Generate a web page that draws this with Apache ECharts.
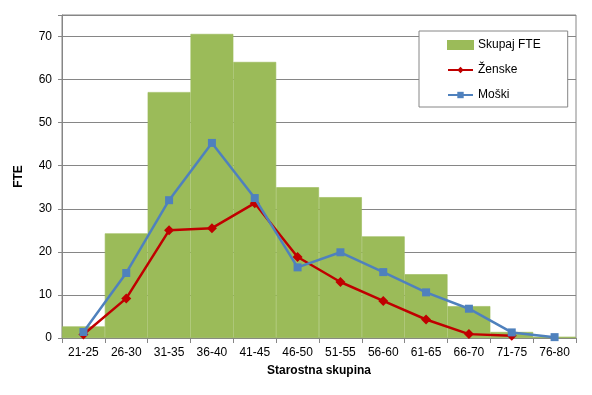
<!DOCTYPE html>
<html>
<head>
<meta charset="utf-8">
<script src="https://cdn.jsdelivr.net/npm/echarts@6/dist/echarts.min.js"></script>
<style>html,body{margin:0;padding:0;background:#fff}#c{width:592px;height:395px}</style>
</head>
<body>
<div id="c"></div>
<script>
const categories = ['21-25','26-30','31-35','36-40','41-45','46-50','51-55','56-60','61-65','66-70','71-75','76-80'];
const skupaj = [2.7, 24.3, 57.1, 70.6, 64.1, 35.0, 32.7, 23.6, 14.8, 7.4, 1.4, 0.3];
const zenske = [0.8, 9.2, 25.0, 25.5, 31.3, 18.8, 13.0, 8.6, 4.3, 0.9, 0.5, null];
const moski = [1.4, 15.1, 32.0, 45.3, 32.5, 16.4, 19.9, 15.3, 10.6, 6.8, 1.3, 0.2];
const yTicks = [0, 10, 20, 30, 40, 50, 60, 70];

const font = 'Liberation Sans, Arial, sans-serif';
const chart = echarts.init(document.getElementById('c'), null, {renderer: 'canvas'});
chart.setOption({
  animation: false,
  textStyle: {fontFamily: font},
  grid: {left: 62, right: 16, top: 15, bottom: 57, show: true, borderColor: '#868686', borderWidth: 1},
  legend: {
    orient: 'vertical', left: 419, top: 31,
    padding: [8, 27, 6, 28], itemGap: 13, itemWidth: 25, itemHeight: 8,
    borderColor: '#868686', borderWidth: 1, backgroundColor: '#fff',
    textStyle: {fontFamily: font, fontSize: 12, color: '#000'},
    data: [{name: 'Skupaj FTE', icon: 'rect'}, 'Ženske', 'Moški']
  },
  xAxis: {
    type: 'category', data: categories, boundaryGap: true,
    name: 'Starostna skupina', nameLocation: 'middle', nameGap: 27,
    nameTextStyle: {fontFamily: font, fontSize: 12, fontWeight: 'bold', color: '#000'},
    axisLine: {lineStyle: {color: '#868686'}},
    axisTick: {show: true, length: 5, lineStyle: {color: '#868686'}},
    axisLabel: {fontFamily: font, fontSize: 12, color: '#000', margin: 9, interval: 0}
  },
  yAxis: {
    type: 'value', min: 0, max: 75, interval: 10,
    name: 'FTE', nameLocation: 'middle', nameGap: 37, nameRotate: 90,
    nameTextStyle: {fontFamily: font, fontSize: 12, fontWeight: 'bold', color: '#000'},
    axisLine: {show: true, lineStyle: {color: '#868686'}},
    axisTick: {show: true, length: 4, lineStyle: {color: '#868686'}},
    splitLine: {show: true, lineStyle: {color: '#868686', width: 1}},
    axisLabel: {fontFamily: font, fontSize: 12, color: '#000', margin: 10,
      formatter: v => yTicks.includes(v) ? String(v) : ''}
  },
  series: [
    {name: 'Skupaj FTE', type: 'bar', data: skupaj, barCategoryGap: '0%',
      itemStyle: {color: '#9BBB59', borderColor: '#9BBB59', borderWidth: 0.6}, z: 1},
    {name: 'Ženske', type: 'line', data: zenske, symbol: 'diamond', symbolSize: 10,
      lineStyle: {color: '#C00000', width: 2.5}, itemStyle: {color: '#C00000'}, z: 3},
    {name: 'Moški', type: 'line', data: moski, symbol: 'rect', symbolSize: 8,
      lineStyle: {color: '#4F81BD', width: 2.5}, itemStyle: {color: '#4F81BD'}, z: 4}
  ]
});
</script>
</body>
</html>
